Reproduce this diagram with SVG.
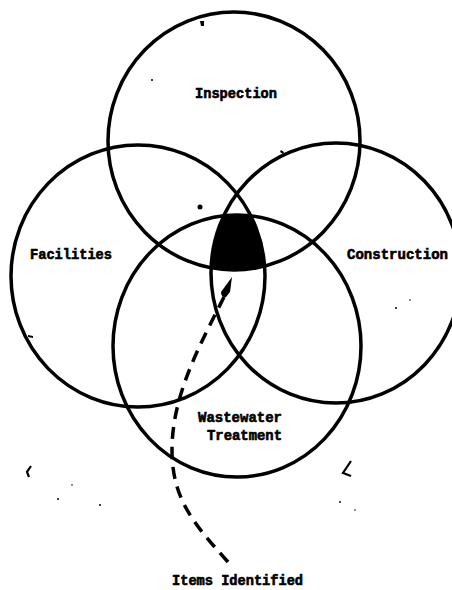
<svg xmlns="http://www.w3.org/2000/svg" width="452" height="590" viewBox="0 0 452 590">
<style>
.c{fill:none;stroke:#000;stroke-width:3.5}
.t{font-family:"Liberation Mono","DejaVu Sans Mono",monospace;font-weight:bold;font-size:14px;fill:#000;stroke:#000;stroke-width:0.6}
.d{fill:none;stroke:#000;stroke-width:3.5;stroke-dasharray:12 8}
.n{fill:#000}
</style>
<defs>
<clipPath id="cL"><ellipse cx="138" cy="276" rx="127" ry="131"/></clipPath>
<clipPath id="cR"><ellipse cx="336" cy="273" rx="125" ry="130"/></clipPath>
<clipPath id="cB"><ellipse cx="237" cy="346" rx="124" ry="131"/></clipPath>
</defs>
<rect width="452" height="590" fill="#fff"/>
<g id="overlap">
<g clip-path="url(#cL)"><g clip-path="url(#cR)"><g clip-path="url(#cB)">
<ellipse cx="234" cy="141" rx="126" ry="129" fill="#000"/>
</g></g></g>
</g>
<g id="inspection">
<ellipse class="c" cx="234" cy="141" rx="126" ry="129"/>
<text class="t" x="195" y="98" textLength="82" lengthAdjust="spacingAndGlyphs">Inspection</text>
</g>
<g id="facilities">
<ellipse class="c" cx="138" cy="276" rx="127" ry="131"/>
<text class="t" x="30" y="259" textLength="82" lengthAdjust="spacingAndGlyphs">Facilities</text>
</g>
<g id="construction">
<ellipse class="c" cx="336" cy="273" rx="125" ry="130"/>
<text class="t" x="347" y="259" textLength="101" lengthAdjust="spacingAndGlyphs">Construction</text>
</g>
<g id="wastewater">
<ellipse class="c" cx="237" cy="346" rx="124" ry="131"/>
<text class="t" x="198" y="422" textLength="84" lengthAdjust="spacingAndGlyphs">Wastewater</text>
<text class="t" x="207" y="440" textLength="75" lengthAdjust="spacingAndGlyphs">Treatment</text>
</g>
<g id="items">
<text class="t" x="172" y="585" textLength="131" lengthAdjust="spacingAndGlyphs">Items Identified</text>
</g>
<g id="connectors">
<path class="d" d="M224,297 C200,345 172,395 172,450 C172,500 195,525 228,562"/>
<path class="n" d="M232,277 L221,292 Q221,298 226,297 L230,292 Z"/>
</g>
<g id="specks">
<circle class="n" cx="152" cy="80" r="1"/>
<circle class="n" cx="200" cy="207" r="2.5"/>
<path class="n" d="M200,21 l4,0 l0,5 l-3,0 Z"/>
<path class="n" d="M281,150 l3,2 l-1,2 l-3,-2 Z"/>
<path class="n" d="M28,335 l5,1 l0,2 l-5,-1 Z"/>
<circle class="n" cx="396" cy="308" r="1"/>
<path d="M351,461 L343,473 L351,476" fill="none" stroke="#000" stroke-width="2.2"/>
<path d="M31,466 L27,472 L29,477" fill="none" stroke="#000" stroke-width="2.2"/>
<circle class="n" cx="340" cy="502" r="0.9"/>
<circle class="n" cx="355" cy="510" r="0.8"/>
<circle class="n" cx="58" cy="499" r="1"/>
<circle class="n" cx="100" cy="505" r="1"/>
<circle class="n" cx="72" cy="485" r="0.8"/>
<circle class="n" cx="410" cy="300" r="0.8"/>
</g>
</svg>
